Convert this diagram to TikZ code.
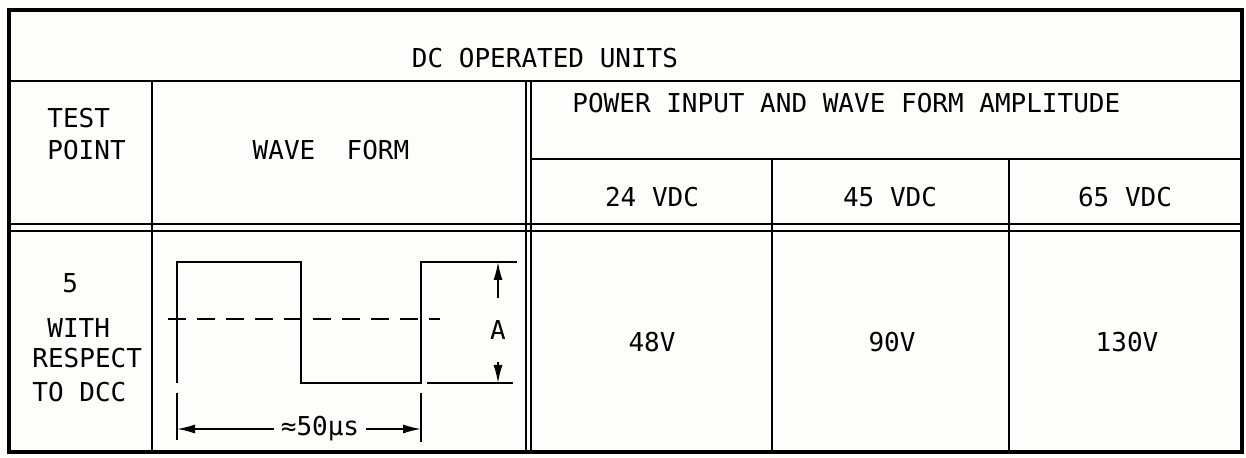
\documentclass[tikz,border=0pt]{standalone}
\usepackage{fontspec}
\setmonofont{DejaVu Sans Mono}
\usetikzlibrary{arrows.meta}
\definecolor{paper}{RGB}{253,253,250}
\begin{document}
\begin{tikzpicture}[
			x=0.5pt, y=-0.5pt,
			every node/.style={font=\ttfamily\fontsize{13}{15}\selectfont, inner sep=0pt},
			rule/.style={line width=1.1pt},
			twin/.style={line width=0.8pt},
			wave/.style={line width=1.4pt},
			dim/.style={line width=0.8pt, -{Latex[length=9pt,width=4.5pt]}}
			]
			
			\fill[paper] (0,0) rectangle (1246,458);
			\useasboundingbox (0,0) rectangle (1246,458);
			
			\draw[line width=1.6pt] (9,10) rectangle (1242,452);
			\draw[rule] (9,81) -- (1242,81);
			\draw[rule] (152,81) -- (152,452);
			\draw[twin] (526,81) -- (526,452) (531,81) -- (531,452);
			\draw[rule] (531,159) -- (1242,159);
			\draw[rule] (772,159) -- (772,452) (1009,159) -- (1009,452);
			\draw[twin] (9,224) -- (1242,224) (9,231) -- (1242,231);
			
			\node[anchor=base] (title) at (545,68) {DC OPERATED UNITS};
			\node[anchor=base west] (test) at (47,128) {TEST};
			\node[anchor=base west] (point) at (47,160) {POINT};
			\node[anchor=base] (waveform) at (331,160) {WAVE\ \ FORM};
			\node[anchor=base west] (power) at (572,113) {POWER INPUT AND WAVE FORM AMPLITUDE};
			\node[anchor=base] (vdc24) at (652,207) {24 VDC};
			\node[anchor=base] (vdc45) at (890,207) {45 VDC};
			\node[anchor=base] (vdc65) at (1125,207) {65 VDC};
			\node[anchor=base] (amp48) at (652,352) {48V};
			\node[anchor=base] (amp90) at (892,352) {90V};
			\node[anchor=base] (amp130) at (1127,352) {130V};
			
			\node[anchor=base west] (tpfive) at (62,293) {5};
			\node[anchor=base west] (tpwith) at (47,338) {WITH};
			\node[anchor=base west] (tpresp) at (32,368) {RESPECT};
			\node[anchor=base west] (tpdcc) at (32,402) {TO DCC};
			
			\draw[wave] (177,383) -- (177,262) -- (301,262) -- (301,383) -- (421,383) -- (421,262) -- (517,262);
			\draw[line width=0.9pt, dash pattern=on 9pt off 5.5pt] (168,319) -- (440,319);
			\draw[line width=0.9pt] (427,383) -- (513,383);
			\draw[line width=0.9pt] (177,393) -- (177,440) (421,393) -- (421,442);
			
			\coordinate (perl) at (177,429);
			\coordinate (perr) at (421,429);
			\coordinate (ampt) at (498,262);
			\coordinate (ampb) at (498,383);
			\node[inner xsep=3pt] (period) at (320,429) {≈50µs};
			\node[inner ysep=11pt] (ampa) at (498,330) {A};
			\draw[dim] (period) -- (perl);
			\draw[dim] (period) -- (perr);
			\draw[dim] (ampa) -- (ampt);
			\draw[dim] (ampa) -- (ampb);
		\end{tikzpicture}
\end{document}
